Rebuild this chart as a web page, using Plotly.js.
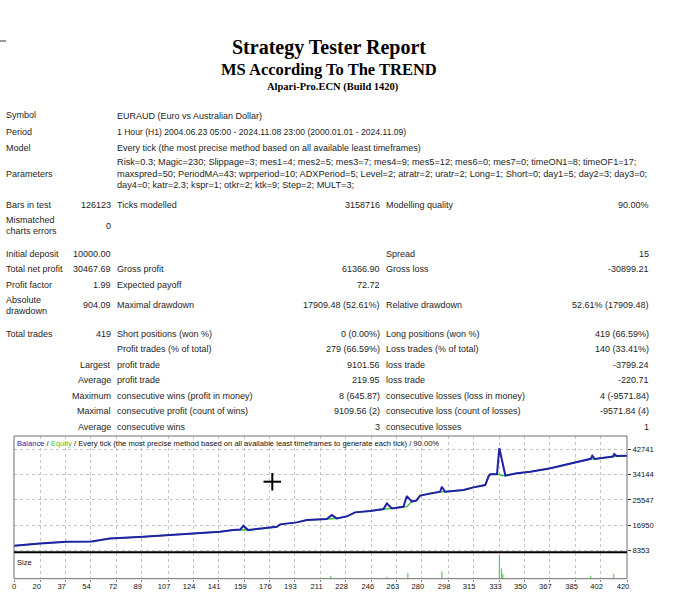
<!DOCTYPE html>
<html><head><meta charset="utf-8">
<script src="https://cdn.plot.ly/plotly-3.0.1.min.js"></script>
<style>html,body{margin:0;padding:0;background:#fff;}#chart{width:679px;height:600px;}</style>
</head><body><div id="chart"></div>
<script>
// ---------- chart data ----------
const tradeNo = [1.8, 19.5, 37.7, 54.8, 65.1, 67.3, 90.0, 106.0, 121.9, 128.7, 142.4, 151.3, 156.1, 158.3, 161.5, 164.9, 174.3, 181.1, 183.4, 190.2, 194.7, 201.6, 215.2, 218.6, 222.0, 228.9, 234.5, 244.8, 253.9, 256.2, 259.6, 267.5, 269.8, 273.2, 276.2, 278.9, 285.7, 292.5, 293.7, 295.9, 308.5, 315.3, 323.3, 325.6, 326.7, 331.3, 332.9, 334.1, 335.8, 337.0, 345.0, 354.1, 367.8, 376.7, 386.2, 395.3, 396.3, 398.0, 410.5, 411.3, 413.0, 420.0];
const balance = [10000, 10820, 11362, 11497, 12276, 12513, 13055, 13630, 13968, 14409, 14747, 15322, 15492, 16778, 15322, 15559, 16169, 16440, 17252, 17590, 17929, 18707, 19046, 20400, 19283, 19960, 21314, 21754, 22431, 24360, 22668, 23210, 26831, 24970, 25308, 27001, 27745, 28287, 29980, 28287, 28862, 29776, 30555, 33601, 34177, 34177, 43080, 40135, 36208, 33771, 34515, 35057, 36208, 37325, 38442, 39424, 40473, 39356, 40202, 41048, 40371, 40468];
const equity = [10000, 10820, 11362, 11497, 12276, 12513, 13055, 13630, 13968, 14409, 14747, 15322, 15492, 15400, 15322, 15559, 16169, 16440, 17252, 17590, 17929, 18707, 19046, 19150, 19283, 19960, 21314, 21754, 22431, 22550, 22668, 23210, 23300, 24970, 25308, 27001, 27745, 28287, 28287, 28287, 28862, 29776, 30555, 33601, 34177, 34177, 34177, 33800, 33771, 33771, 34515, 35057, 36208, 37325, 38442, 39424, 39400, 39356, 40202, 40250, 40371, 40468];
const sizeTrade = [217.9, 256.2, 270.5, 293.7, 332.9, 334.3, 335.3, 395.3, 411.0];
const sizeLots = [0.10, 0.07, 0.21, 0.25, 0.81, 0.37, 0.17, 0.10, 0.17];
const xTickLabels = [0, 20, 37, 54, 72, 89, 107, 124, 141, 159, 176, 193, 211, 228, 246, 263, 280, 298, 315, 333, 350, 367, 385, 402, 420];
const yTickLabels = [8353, 16950, 25547, 34144, 42741];

// ---------- report text ----------
const titleMain = "Strategy Tester Report";
const titleSub = "MS According To The TREND";
const titleBroker = "Alpari-Pro.ECN (Build 1420)";
const chartTitle = "<span style='color:#2424b0'>Balance</span> / <span style='color:#3cc83c'>Equity</span> / Every tick (the most precise method based on all available least timeframes to generate each tick) / 90.00%";
// [text, y, optional font size]
const labelsCol1 = [["Symbol",115],["Period",132],["Model",148],["Parameters",174],["Bars in test",205],["Mismatched",219.5],["charts errors",231],["Initial deposit",254],["Total net profit",269],["Profit factor",285],["Absolute",299.5],["drawdown",311],["Total trades",334]];
const valuesCol1 = [["126123",205],["0",226],["10000.00",254],["30467.69",269],["1.99",285],["904.09",305],["419",334],["Largest",365],["Average",380],["Maximum",396],["Maximal",411],["Average",427]];
const labelsCol2 = [["EURAUD (Euro vs Australian Dollar)",116],["1 Hour (H1) 2004.06.23 05:00 - 2024.11.08 23:00 (2000.01.01 - 2024.11.09)",132,8.6],["Every tick (the most precise method based on all available least timeframes)",148],
 ["Risk=0.3; Magic=230; Slippage=3; mes1=4; mes2=5; mes3=7; mes4=9; mes5=12; mes6=0; mes7=0; timeON1=8; timeOF1=17;",162.5,9.2],
 ["maxspred=50; PeriodMA=43; wprperiod=10; ADXPeriod=5; Level=2; atratr=2; uratr=2; Long=1; Short=0; day1=5; day2=3; day3=0;",173.5,9.2],
 ["day4=0; katr=2.3; kspr=1; otkr=2; ktk=9; Step=2; MULT=3;",184.5,9.2],
 ["Ticks modelled",205],["Gross profit",269],["Expected payoff",285],["Maximal drawdown",305],["Short positions (won %)",334],["Profit trades (% of total)",349],["profit trade",365],["profit trade",380],["consecutive wins (profit in money)",396],["consecutive profit (count of wins)",411],["consecutive wins",427]];
const valuesCol2 = [["3158716",205],["61366.90",269],["72.72",285],["17909.48 (52.61%)",305],["0 (0.00%)",334],["279 (66.59%)",349],["9101.56",365],["219.95",380],["8 (645.87)",396],["9109.56 (2)",411],["3",427]];
const labelsCol3 = [["Modelling quality",205],["Spread",254],["Gross loss",269],["Relative drawdown",305],["Long positions (won %)",334],["Loss trades (% of total)",349],["loss trade",365],["loss trade",380],["consecutive losses (loss in money)",396],["consecutive loss (count of losses)",411],["consecutive losses",427]];
const valuesCol3 = [["90.00%",205],["15",254],["-30899.21",269],["52.61% (17909.48)",305],["419 (66.59%)",334],["140 (33.41%)",349],["-3799.24",365],["-220.71",380],["4 (-9571.84)",396],["-9571.84 (4)",411],["1",427]];

// ---------- layout helpers ----------
const W = 679, H = 600;
const px = x => x / W;
const py = y => 1 - y / H;
const TXT = "Liberation Sans, Arial, sans-serif";
const txtColor = "#1e1e1e";
const annotations = [];
function addText(list, x, anchor) {
  list.forEach(([t, y, s]) => annotations.push({text: t, x: px(x), y: py(y), xref: "paper", yref: "paper", xanchor: anchor, yanchor: "middle", showarrow: false, font: {family: TXT, size: s || 9, color: txtColor}, borderpad: 0}));
}
addText(labelsCol1, 5, "left");
addText(valuesCol1, 112, "right");
addText(labelsCol2, 116, "left");
addText(valuesCol2, 381, "right");
addText(labelsCol3, 385, "left");
addText(valuesCol3, 650, "right");

annotations.push({text: "<b>" + titleMain + "</b>", x: px(329), y: py(47), xref: "paper", yref: "paper", xanchor: "center", yanchor: "middle", showarrow: false, font: {family: "Liberation Serif, Times New Roman, serif", size: 20, color: "#000"}});
annotations.push({text: "<b>" + titleSub + "</b>", x: px(329), y: py(69), xref: "paper", yref: "paper", xanchor: "center", yanchor: "middle", showarrow: false, font: {family: "Liberation Serif, Times New Roman, serif", size: 16.5, color: "#000"}});
annotations.push({text: "<b>" + titleBroker + "</b>", x: px(333), y: py(87), xref: "paper", yref: "paper", xanchor: "center", yanchor: "middle", showarrow: false, font: {family: "Liberation Serif, Times New Roman, serif", size: 10.5, color: "#000"}});
annotations.push({text: chartTitle, x: px(16), y: py(443), xref: "paper", yref: "paper", xanchor: "left", yanchor: "middle", showarrow: false, font: {family: TXT, size: 7.6, color: "#111"}, borderpad: 0});
annotations.push({text: "Size", x: px(16), y: py(562), xref: "paper", yref: "paper", xanchor: "left", yanchor: "middle", showarrow: false, font: {family: TXT, size: 7.6, color: "#111"}, borderpad: 0});

const xRange = [1.8, 420];
const gridVals = xTickLabels.map(v => Math.max(v, xRange[0]));
const xText = xTickLabels.map((v, i) => i === 0 ? "\u00a0\u00a0\u00a0\u00a0" + v : String(v));
const xDomain = [px(14), px(627)];

const traces = [
  {x: tradeNo, y: equity, type: "scatter", mode: "lines", line: {color: "#3cc83c", width: 1.5}, xaxis: "x", yaxis: "y", hoverinfo: "skip"},
  {x: tradeNo, y: balance, type: "scatter", mode: "lines", line: {color: "#2020a8", width: 2}, xaxis: "x", yaxis: "y", hoverinfo: "skip"},
  {x: sizeTrade, y: sizeLots, type: "bar", width: 0.7, marker: {color: "#3cc83c", line: {width: 0}}, xaxis: "x2", yaxis: "y2", hoverinfo: "skip"}
];

const gridStyle = {showgrid: true, gridcolor: "#c4c4c4", griddash: "dot", gridwidth: 1};
const layout = {
  width: W, height: H, margin: {l: 0, r: 0, t: 0, b: 0}, paper_bgcolor: "#fff", plot_bgcolor: "#fff",
  showlegend: false,
  xaxis: Object.assign({domain: xDomain, range: xRange, anchor: "y", tickmode: "array", tickvals: gridVals, showticklabels: false, ticks: "", zeroline: false, showline: false, fixedrange: true}, gridStyle),
  yaxis: Object.assign({domain: [py(552), py(436)], range: [7913, 47141], anchor: "x", side: "right", tickmode: "array", tickvals: yTickLabels, tickformat: "d", ticks: "outside", ticklen: 3, tickcolor: "#333", tickfont: {family: TXT, size: 7.6, color: "#111"}, zeroline: false, showline: false, automargin: false, fixedrange: true}, gridStyle),
  xaxis2: Object.assign({domain: xDomain, range: xRange, anchor: "y2", tickmode: "array", tickvals: gridVals, ticktext: xText, ticklabelshift: -4, ticklabelstandoff: -2, ticks: "outside", ticklen: 2, tickcolor: "#888", tickfont: {family: TXT, size: 7.6, color: "#111"}, zeroline: false, showline: false, automargin: false, fixedrange: true}, gridStyle),
  yaxis2: {domain: [py(578.7), py(553)], range: [0, 0.9], anchor: "x2", showgrid: false, showticklabels: false, ticks: "", zeroline: false, showline: false, fixedrange: true},
  annotations: annotations,
  shapes: [
    {type: "rect", xref: "paper", yref: "paper", x0: px(14), x1: px(627), y0: py(578.7), y1: py(436), line: {color: "#6e6e6e", width: 1}, layer: "above"},
    {type: "line", xref: "paper", yref: "paper", x0: px(14), x1: px(627), y0: py(552.3), y1: py(552.3), line: {color: "#000", width: 2}, layer: "above"},
    {type: "line", xref: "paper", yref: "paper", x0: px(263.5), x1: px(281), y0: py(481.7), y1: py(481.7), line: {color: "#000", width: 2}, layer: "above"},
    {type: "line", xref: "paper", yref: "paper", x0: px(272.3), x1: px(272.3), y0: py(473), y1: py(490.5), line: {color: "#000", width: 2}, layer: "above"},
    {type: "line", xref: "paper", yref: "paper", x0: px(0), x1: px(6), y0: py(41), y1: py(41), line: {color: "#333", width: 1}, layer: "above"}
  ]
};
Plotly.newPlot("chart", traces, layout, {staticPlot: true, displayModeBar: false});
</script></body></html>
